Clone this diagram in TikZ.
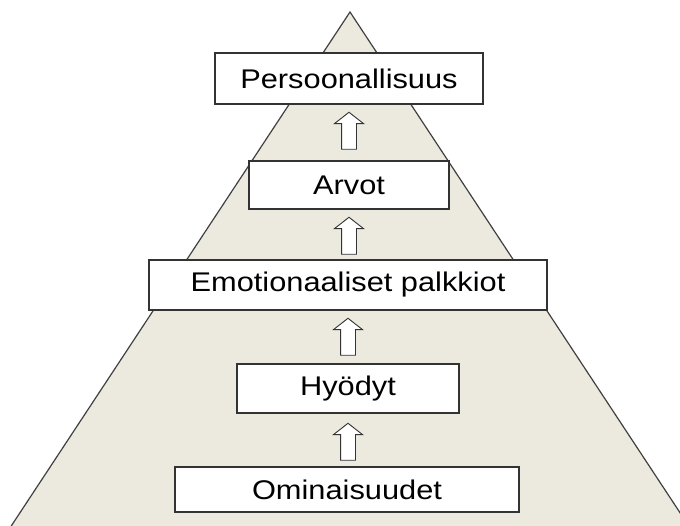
\documentclass[tikz,border=0pt]{standalone}
\usepackage{fontspec}
\setmainfont{Liberation Sans}[FakeStretch=1.14]
\usetikzlibrary{positioning, shapes.arrows}

\definecolor{pyramid}{RGB}{236,233,223}

\begin{document}
\begin{tikzpicture}[
  x=1pt, y=-1pt,
  font=\fontsize{27}{30}\selectfont,
  level/.style={
    draw=black!80,
    fill=white,
    line width=1.4pt,
    align=center,
    inner sep=0pt
  },
  uparrow/.style={
    single arrow,
    draw=black!80,
    fill=white,
    line width=0.9pt,
    shape border rotate=90,
    minimum height=37pt,
    minimum width=28pt,
    single arrow head extend=7pt,
    single arrow tip angle=104,
    inner sep=7pt
  }
]
\useasboundingbox (0,0) rectangle (680,526);

% kolmio taustalla
\begin{scope}
  \clip (0,0) rectangle (680,526);
  \draw[fill=pyramid, draw=black!75, line width=1.2pt]
    (350,12) -- (698,540) -- (2,540) -- cycle;
\end{scope}

% tasot ylhaalta alas
\node[level, minimum width=268pt, minimum height=51pt] (pers) at (349,78.5) {Persoonallisuus};
\node[level, minimum width=200pt, minimum height=48pt] (arvot) at (349,185) {Arvot};
\node[level, minimum width=398pt, minimum height=50pt] (emo) at (348,285) {Emotionaaliset palkkiot};
\node[level, minimum width=222pt, minimum height=49pt] (hyot) at (348,388.5) {Hyödyt};
\node[level, minimum width=344pt, minimum height=45pt] (omin) at (347,489.5) {Ominaisuudet};

% nuolet tasojen valissa
\node[uparrow, below=7pt of pers] (a1) {};
\node[uparrow, below=7pt of arvot] (a2) {};
\node[uparrow, below=7pt of emo] (a3) {};
\node[uparrow, below=9pt of hyot] (a4) {};

\end{tikzpicture}
\end{document}
